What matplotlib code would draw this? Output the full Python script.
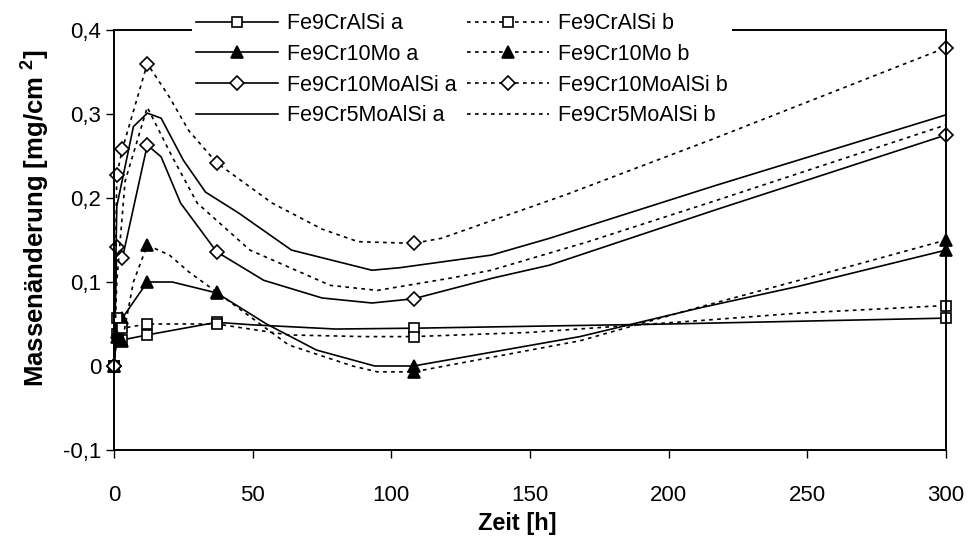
import numpy as np
import matplotlib
matplotlib.use('Agg')
import matplotlib.pyplot as plt

plt.rcParams['font.family'] = ['Liberation Sans', 'DejaVu Sans']
plt.rcParams['mathtext.fontset'] = 'custom'
plt.rcParams['mathtext.bf'] = 'Liberation Sans:bold'
plt.rcParams['mathtext.rm'] = 'Liberation Sans'

# measurement times that carry a marker
t_mark = [0, 1, 3, 12, 37, 108, 300]

# Fe9CrAlSi
t_CrAlSi_a = [0, 1, 3, 12, 37, 50, 80, 108, 200, 300]
v_CrAlSi_a = [0, 0.038, 0.031, 0.037, 0.052, 0.049, 0.044, 0.045, 0.050, 0.057]
t_CrAlSi_b = [0, 1, 3, 12, 37, 63, 90, 108, 150, 211, 247, 300]
v_CrAlSi_b = [0, 0.057, 0.045, 0.050, 0.050, 0.037, 0.035, 0.035, 0.040, 0.054, 0.063, 0.072]

# Fe9Cr10Mo
t_Mo_a = [0, 1, 3, 12, 21, 37, 55, 73, 94, 108, 168, 211, 247, 300]
v_Mo_a = [0, 0.040, 0.057, 0.100, 0.100, 0.087, 0.050, 0.019, 0.0, 0.0, 0.035, 0.069, 0.095, 0.138]
t_Mo_b = [0, 1, 3, 7, 12, 20, 27, 32, 37, 63, 86, 95, 108, 168, 211, 247, 300]
v_Mo_b = [0, 0.035, 0.030, 0.100, 0.144, 0.132, 0.112, 0.100, 0.088, 0.025, 0.0, -0.007,
          -0.007, 0.030, 0.070, 0.102, 0.150]

# Fe9Cr10MoAlSi
t_MoAlSi_a = [0, 1, 3, 12, 17, 24, 37, 54, 75, 93, 108, 137, 157, 217, 300]
v_MoAlSi_a = [0, 0.142, 0.128, 0.263, 0.249, 0.194, 0.136, 0.102, 0.081, 0.075, 0.080,
              0.105, 0.120, 0.186, 0.275]
t_MoAlSi_b = [0, 1, 3, 12, 20, 27, 37, 57, 75, 88, 108, 118, 163, 215, 300]
v_MoAlSi_b = [0, 0.227, 0.258, 0.360, 0.320, 0.280, 0.242, 0.194, 0.163, 0.148, 0.146,
              0.152, 0.204, 0.269, 0.379]

# Fe9Cr5MoAlSi (no markers)
t_5Mo_a = [0, 1, 7, 12, 17, 25, 33, 45, 64, 93, 103, 136, 157, 217, 300]
v_5Mo_a = [0, 0.190, 0.285, 0.301, 0.295, 0.245, 0.207, 0.182, 0.138, 0.114, 0.117,
           0.132, 0.152, 0.215, 0.299]
t_5Mo_b = [0, 1, 4, 12, 21, 30, 49, 78, 95, 122, 136, 171, 218, 300]
v_5Mo_b = [0, 0.100, 0.220, 0.308, 0.249, 0.194, 0.138, 0.096, 0.090, 0.105, 0.114, 0.148,
           0.198, 0.287]

series = [
    ('Fe9CrAlSi a', t_CrAlSi_a, v_CrAlSi_a, 's', '-'),
    ('Fe9Cr10Mo a', t_Mo_a, v_Mo_a, '^', '-'),
    ('Fe9Cr10MoAlSi a', t_MoAlSi_a, v_MoAlSi_a, 'D', '-'),
    ('Fe9Cr5MoAlSi a', t_5Mo_a, v_5Mo_a, None, '-'),
    ('Fe9CrAlSi b', t_CrAlSi_b, v_CrAlSi_b, 's', 'b'),
    ('Fe9Cr10Mo b', t_Mo_b, v_Mo_b, '^', 'b'),
    ('Fe9Cr10MoAlSi b', t_MoAlSi_b, v_MoAlSi_b, 'D', 'b'),
    ('Fe9Cr5MoAlSi b', t_5Mo_b, v_5Mo_b, None, 'b'),
]

fig = plt.figure(figsize=(9.7, 5.4), dpi=100)
ax = fig.add_axes([114 / 970, 1 - 450 / 540, 832 / 970, 420 / 540])

msize = {'s': 7, '^': 8, 'D': 7}
for label, t, v, mk, ls in series:
    idx = [i for i, tt in enumerate(t) if tt in t_mark]
    kw = dict(color='black', lw=1.2, label=label)
    if ls == 'b':
        kw['linestyle'] = (0, (2.2, 2.6))
    if mk is not None:
        kw.update(marker=mk, markevery=idx, ms=msize[mk], mec='black', mew=1.2,
                  mfc='black' if mk == '^' else 'white')
    ax.plot(t, v, clip_on=False, **kw)

ax.set_xlim(0, 300)
ax.set_ylim(-0.1, 0.4)
ax.set_xticks(np.arange(0, 301, 50))
ax.set_yticks(np.arange(-0.1, 0.41, 0.1))
ax.set_yticklabels(['-0,1', '0', '0,1', '0,2', '0,3', '0,4'])
ax.tick_params(direction='out', length=6, width=1, labelsize=16)
ax.tick_params(axis='x', pad=19)
ax.tick_params(axis='y', pad=3)
for s in ax.spines.values():
    s.set_linewidth(1.4)

ax.set_xlabel('Zeit [h]', fontsize=17, fontweight='bold')
ax.set_ylabel(r'Massenänderung [mg/cm $^{\mathbf{2}}$]', fontsize=18.5, fontweight='bold')
ax.xaxis.set_label_coords(0.485, -0.148)
ax.yaxis.set_label_coords(-0.076, 0.552)

leg = ax.legend(ncol=2, loc='upper left', bbox_to_anchor=(192 / 970, 1 - 9 / 540),
                bbox_transform=fig.transFigure, fontsize=15.5, numpoints=1,
                handlelength=3.8, handletextpad=0.4, columnspacing=0.5,
                labelspacing=0.45, borderpad=0.2, borderaxespad=0.0,
                frameon=True, fancybox=False, framealpha=1)
leg.get_frame().set_edgecolor('none')
leg.get_frame().set_facecolor('white')
leg.set_zorder(10)

fig.savefig('out.png', dpi=100)
